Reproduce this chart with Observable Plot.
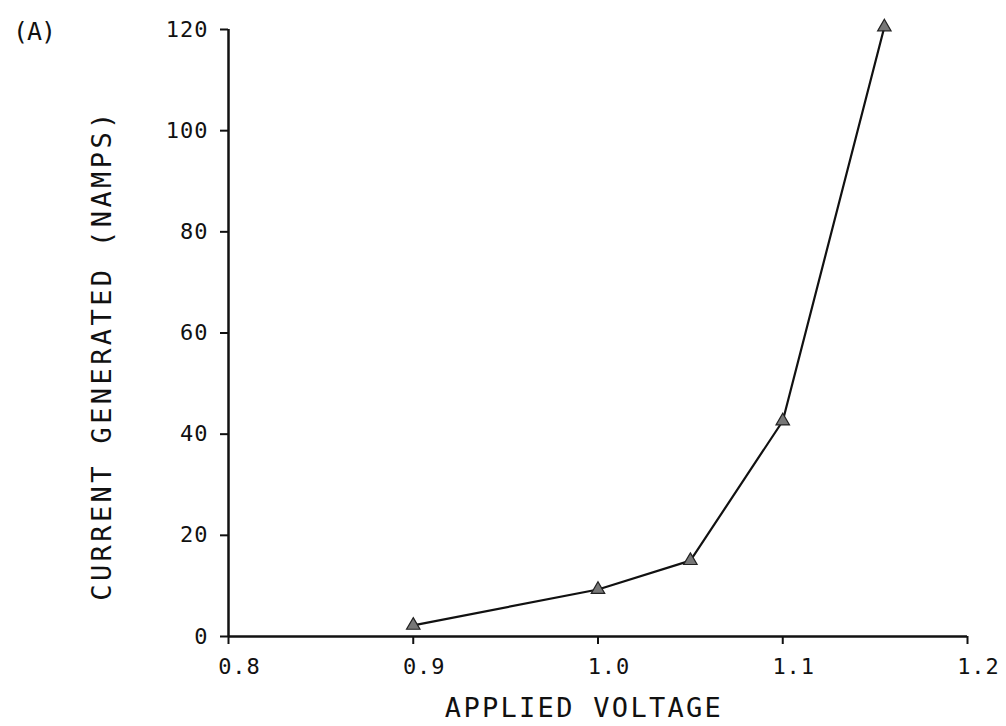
<!DOCTYPE html>
<html>
<head>
<meta charset="utf-8">
<script src="https://cdn.jsdelivr.net/npm/d3@7"></script>
<script src="https://cdn.jsdelivr.net/npm/@observablehq/plot@0.6"></script>
<style>
  html, body { margin: 0; padding: 0; background: #fff; }
  #chart { position: relative; width: 1006px; height: 726px; }
  #panel { position: absolute; left: 13px; top: 17px; font: 25px "DejaVu Sans Mono", monospace; letter-spacing: -1px; color: #111; line-height: 30px; }
</style>
</head>
<body>
<div id="chart"><div id="panel">(A)</div></div>
<script>
const voltage = [0.9, 1.0, 1.05, 1.1, 1.155];
const current = [2.2, 9.3, 15, 42.6, 120.5];
const xTicks = [0.8, 0.9, 1.0, 1.1, 1.2];
const yTicks = [0, 20, 40, 60, 80, 100, 120];
const xTitle = "APPLIED VOLTAGE";
const yTitle = "CURRENT GENERATED (NAMPS)";

const data = voltage.map((v, i) => ({v, c: current[i]}));

const plot = Plot.plot({
  width: 1006,
  height: 726,
  marginLeft: 228,
  marginRight: 39,
  marginTop: 29,
  marginBottom: 90,
  style: {fontFamily: "DejaVu Sans Mono, monospace", fontSize: "22px", color: "#111", background: "transparent"},
  x: {domain: [0.8, 1.2]},
  y: {domain: [0, 120]},
  marks: [
    Plot.axisX({ticks: xTicks, tickSize: 8, fill: "none", label: null, strokeWidth: 2}),
    Plot.axisX({ticks: xTicks, tickFormat: d3.format(".1f"), tickSize: 0, tickPadding: 22, dx: 11, label: null, fontSize: 22}),
    Plot.axisY({ticks: yTicks, tickSize: 8, tickPadding: 12, label: null, strokeWidth: 2, fontSize: 22}),
    Plot.ruleY([0], {stroke: "#111", strokeWidth: 2.5}),
    Plot.ruleX([0.8], {stroke: "#111", strokeWidth: 2.5}),
    Plot.text([xTitle], {frameAnchor: "bottom", text: d => d, dy: 80, dx: -14, fontSize: 27}),
    Plot.text([yTitle], {frameAnchor: "left", textAnchor: "middle", text: d => d, rotate: -90, dx: -126, dy: 22, fontSize: 27}),
    Plot.line(data, {x: "v", y: "c", stroke: "#111", strokeWidth: 2.2}),
    Plot.dot(data, {x: "v", y: "c", symbol: "triangle", r: 5, fill: "#777", stroke: "#222", strokeWidth: 1.2})
  ]
});
d3.select(plot).selectAll("text").each(function () {
  const t = this.textContent;
  if (t === xTitle) this.setAttribute("letter-spacing", "2.3");
  else if (t === yTitle) this.setAttribute("letter-spacing", "3.4");
  else this.setAttribute("letter-spacing", "1");
});
document.getElementById("chart").appendChild(plot);
plot.style.position = "absolute";
plot.style.left = "0";
plot.style.top = "0";
</script>
</body>
</html>
